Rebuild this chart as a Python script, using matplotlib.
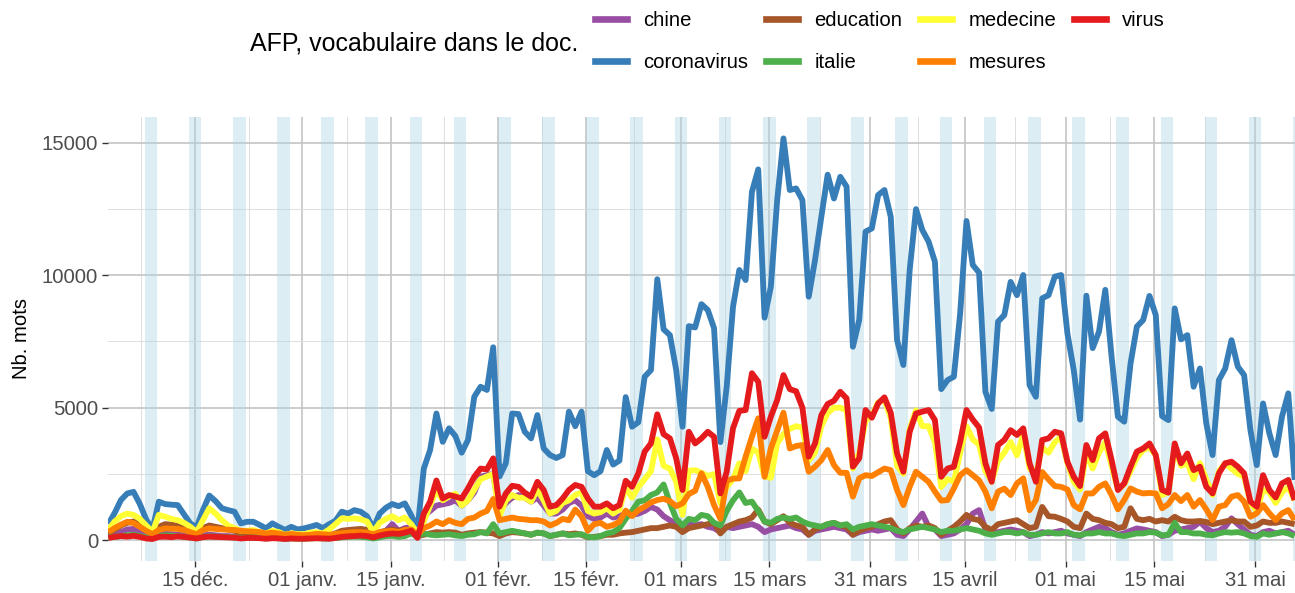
import matplotlib
matplotlib.use("Agg")
import matplotlib.pyplot as plt
from matplotlib.lines import Line2D
import pandas as pd

plt.rcParams["font.family"] = ["Liberation Sans", "DejaVu Sans"]

# Daily word counts in AFP dispatches, one value per day from 1 Dec 2019
chine = [
    150, 200, 300, 400, 420, 300, 200, 100, 200, 250,
    220, 200, 180, 150, 100, 180, 200, 180, 150, 150,
    120, 100, 120, 120, 100, 80, 100, 90, 70, 90,
    80, 80, 90, 100, 90, 90, 120, 150, 180, 200,
    200, 180, 120, 200, 350, 600, 350, 450, 500, 300,
    900, 1100, 1300, 1350, 1400, 1500, 1300, 1500, 1800, 2400,
    2450, 2500, 1100, 1400, 1600, 1700, 1600, 1450, 1600, 1300,
    1000, 1000, 1150, 1400, 1500, 1300, 900, 800, 850, 1000,
    850, 900, 1000, 950, 1000, 1100, 1250, 1150, 900, 750,
    600, 450, 600, 550, 600, 500, 450, 300, 500, 450,
    500, 550, 600, 500, 300, 400, 450, 500, 550, 450,
    400, 200, 350, 400, 450, 500, 450, 400, 200, 300,
    350, 400, 350, 400, 450, 200, 150, 400, 700, 1000,
    500, 400, 150, 200, 250, 400, 600, 1000, 1130, 400,
    250, 300, 350, 400, 350, 300, 150, 200, 300, 250,
    300, 350, 250, 200, 150, 300, 400, 500, 450, 300,
    200, 250, 350, 440, 400, 350, 300, 150, 200, 350,
    400, 450, 500, 690, 450, 300, 350, 500, 820, 600,
    400, 200, 150, 300, 350, 250, 300, 350, 200,
]
coronavirus = [
    600, 1020, 1510, 1760, 1820, 1360, 780, 400, 1450, 1360,
    1335, 1320, 970, 630, 480, 1130, 1680, 1470, 1200, 1130,
    1070, 630, 690, 690, 570, 440, 630, 500, 380, 500,
    400, 440, 500, 570, 450, 600, 730, 1070, 1000, 1130,
    1070, 900, 440, 1000, 1220, 1360, 1280, 1385, 940, 400,
    2700, 3400, 4780, 3710, 4220, 3930, 3300, 3780, 5410, 5790,
    5670, 7280, 2400, 2900, 4780, 4760, 4090, 3840, 4720, 3460,
    3210, 3100, 3210, 4850, 4300, 4850, 2600, 2450, 2600, 3400,
    2850, 3000, 5400, 4280, 4450, 6170, 6420, 9850, 7960, 7740,
    6420, 4280, 8080, 8030, 8910, 8690, 8000, 3700, 5800, 8810,
    10200, 9820, 13150, 14000, 8400, 9570, 12840, 15170, 13220, 13280,
    12840, 9190, 10580, 12210, 13800, 12900, 13720, 13350, 7300, 8310,
    11650, 11770, 13030, 13220, 12210, 7550, 6610, 10200, 12500, 11710,
    11270, 10510, 5700, 6040, 6170, 8560, 12050, 10390, 10100, 5600,
    4950, 8250, 8500, 9750, 9250, 10010, 5850, 5410, 9130, 9250,
    9950, 10010, 7800, 6420, 4550, 9230, 7250, 7870, 9450, 6920,
    4660, 4470, 6670, 8060, 8310, 9220, 8500, 4680, 4530, 8750,
    7580, 7740, 5790, 6480, 4410, 3210, 6040, 6480, 7550, 6550,
    6230, 4150, 2830, 5160, 4030, 3210, 4660, 5540, 2270,
]
education = [
    250, 400, 550, 650, 700, 550, 400, 200, 500, 600,
    580, 550, 480, 350, 220, 450, 550, 500, 450, 400,
    350, 250, 280, 250, 200, 150, 200, 180, 120, 150,
    130, 120, 150, 180, 150, 150, 250, 350, 380, 400,
    420, 380, 200, 300, 350, 400, 350, 400, 350, 150,
    200, 250, 300, 280, 300, 280, 200, 250, 280, 300,
    280, 250, 150, 250, 300, 280, 250, 200, 280, 250,
    150, 200, 250, 220, 250, 200, 100, 120, 150, 200,
    200, 250, 280, 300, 350, 400, 450, 450, 500, 550,
    500, 300, 450, 500, 550, 600, 650, 250, 500, 600,
    700, 750, 850, 1150, 700, 600, 750, 900, 650, 550,
    500, 200, 400, 500, 600, 650, 550, 500, 200, 350,
    450, 500, 600, 700, 750, 400, 250, 450, 550, 500,
    550, 450, 200, 350, 500, 700, 950, 800, 750, 500,
    380, 600, 650, 700, 750, 600, 450, 500, 1250, 900,
    880, 800, 700, 500, 450, 1000, 800, 750, 650, 600,
    450, 500, 1200, 800, 750, 800, 700, 750, 700, 880,
    750, 700, 700, 720, 680, 600, 650, 700, 750, 700,
    700, 500, 550, 700, 650, 650, 700, 650, 600,
]
italie = [
    100, 120, 150, 180, 200, 150, 100, 60, 150, 180,
    160, 150, 120, 100, 60, 120, 140, 130, 120, 110,
    100, 80, 90, 90, 80, 60, 80, 70, 50, 60,
    50, 50, 60, 70, 60, 60, 80, 100, 120, 130,
    120, 100, 60, 100, 150, 160, 120, 150, 250, 150,
    250, 200, 180, 200, 220, 180, 150, 200, 220, 300,
    250, 600, 250, 300, 350, 300, 250, 200, 280, 250,
    150, 200, 250, 180, 200, 220, 120, 100, 150, 250,
    300, 450, 800, 1100, 1450, 1500, 1700, 1800, 2100, 1400,
    800, 550, 800, 750, 950, 900, 650, 550, 1100, 1500,
    1800, 1400, 1450, 1100, 700, 650, 800, 850, 800, 850,
    700, 600, 550, 500, 600, 650, 550, 600, 400, 500,
    550, 600, 550, 500, 450, 350, 300, 400, 450, 500,
    450, 400, 300, 350, 350, 400, 450, 400, 350, 250,
    200, 250, 300, 300, 250, 300, 200, 200, 250, 300,
    250, 250, 300, 200, 180, 250, 250, 300, 250, 250,
    180, 150, 200, 250, 250, 300, 280, 180, 200, 650,
    300, 300, 250, 250, 200, 180, 250, 300, 280, 300,
    250, 150, 120, 250, 200, 250, 300, 250, 150,
]
medecine = [
    400, 700, 900, 1000, 950, 800, 550, 300, 950, 880,
    800, 750, 650, 500, 300, 750, 1200, 1000, 750, 550,
    450, 350, 350, 380, 300, 250, 350, 300, 200, 250,
    230, 220, 280, 300, 250, 400, 600, 820, 800, 820,
    780, 700, 300, 650, 800, 900, 750, 850, 600, 250,
    700, 1300, 1900, 1500, 1650, 1750, 1300, 1500, 1900, 2300,
    2400, 2500, 900, 1500, 1700, 1600, 1600, 1450, 1900, 1500,
    1000, 1100, 1400, 1500, 1700, 1800, 1100, 1000, 1050, 1200,
    1000, 1150, 2000, 1600, 2000, 2300, 2600, 3800, 2800, 2700,
    2200, 950, 2620, 2640, 2540, 2420, 2490, 1390, 2000, 2300,
    2900, 2600, 3450, 3300, 2400, 2350, 3650, 4000, 4200, 4300,
    4250, 3000, 3300, 4300, 4800, 5000, 5000, 4900, 2700, 3300,
    4500, 4700, 5200, 5300, 4600, 2800, 2500, 4200, 4900, 4300,
    4300, 3700, 2000, 2300, 2200, 3300, 4300, 3800, 3600, 2600,
    2200, 3000, 3300, 3700, 3200, 4000, 2700, 2500, 3500, 3300,
    3700, 3900, 2900, 2200, 1900, 3300, 2700, 3300, 3700, 2800,
    1900, 2100, 2600, 3100, 3400, 3500, 3200, 1700, 1800, 3500,
    2800, 2900, 2300, 2900, 2300, 1700, 2600, 2900, 2700, 2500,
    2400, 1400, 1100, 1900, 1800, 1400, 1800, 2000, 1500,
]
mesures = [
    300, 450, 580, 690, 640, 500, 350, 220, 380, 440,
    430, 420, 380, 300, 220, 380, 440, 420, 400, 390,
    380, 350, 330, 320, 300, 250, 280, 250, 200, 230,
    200, 180, 200, 230, 220, 200, 230, 260, 280, 300,
    300, 280, 220, 300, 330, 350, 300, 380, 400, 200,
    450, 550, 700, 600, 750, 650, 600, 800, 850, 1000,
    1100, 1550, 750, 800, 850, 800, 780, 750, 750, 700,
    550, 650, 800, 750, 1150, 900, 350, 600, 650, 500,
    565, 690, 1110, 905, 1130, 1260, 1420, 1510, 1560, 1470,
    1280, 1385, 1740, 1860, 2520, 2010, 1320, 800, 2240, 2320,
    2330, 3150, 3900, 4600, 2390, 3460, 4130, 4810, 3460, 3550,
    3590, 2580, 2770, 3020, 3400, 2830, 2540, 2540, 1640, 2330,
    2450, 2420, 2560, 2700, 2640, 1890, 1320, 2010, 2580, 2390,
    2200, 1830, 1490, 1510, 1950, 2450, 2640, 2450, 2250, 1830,
    1200, 1830, 1940, 1700, 2140, 2330, 1130, 1510, 2570, 2290,
    2040, 2010, 1910, 1320, 1160, 1760, 1760, 2010, 2140, 1700,
    1160, 1510, 1950, 1830, 1760, 1780, 1760, 1200, 1360, 1700,
    1470, 1700, 1260, 1510, 1160, 755, 1260, 1320, 1640, 1700,
    1450, 880, 1010, 1320, 1010, 755, 1010, 1130, 755,
]
virus = [
    80, 120, 150, 130, 160, 120, 60, 40, 120, 130,
    110, 140, 120, 90, 60, 110, 130, 120, 110, 100,
    90, 60, 80, 80, 70, 50, 70, 60, 40, 60,
    50, 50, 60, 70, 60, 50, 80, 120, 140, 150,
    170, 150, 100, 170, 220, 250, 230, 280, 350, 80,
    1000, 1450, 2250, 1570, 1700, 1640, 1570, 1950, 2390, 2700,
    2670, 3085, 1260, 1760, 2050, 2010, 1790, 1640, 2200, 1890,
    1260, 1320, 1570, 1890, 2080, 2010, 1570, 1260, 1260, 1385,
    1200, 1320, 2240, 2010, 2520, 3340, 3650, 4750, 4000, 3840,
    3085, 1890, 4090, 3650, 3840, 4090, 3900, 1760, 2580, 4220,
    4880, 4910, 6300, 5980, 3900, 4660, 5290, 6230, 5700, 5620,
    5000, 3150, 3650, 4720, 5140, 5260, 5600, 5350, 2770, 3085,
    4910, 4620, 5160, 5390, 4810, 3270, 2580, 4090, 4780, 4850,
    4910, 4530, 2390, 2700, 2770, 3710, 4910, 4550, 4250, 2900,
    2200, 3590, 3780, 4150, 3970, 4220, 2900, 2200, 3780, 3840,
    4090, 4030, 2960, 2390, 2040, 3590, 3020, 3840, 4030, 3020,
    1890, 2140, 2770, 3340, 3460, 3650, 3210, 1890, 1790, 3650,
    2900, 3270, 2640, 2770, 2010, 1760, 2520, 2900, 2960, 2770,
    2520, 1450, 1260, 2450, 1890, 1610, 2140, 2270, 1510,
]

terms = ["chine", "coronavirus", "education", "italie", "medecine", "mesures", "virus"]
counts = [chine, coronavirus, education, italie, medecine, mesures, virus]
colors = ["#984EA3", "#377EB8", "#A65628", "#4DAF4A", "#FFFF33", "#FF7F00", "#E41A1C"]

tick_dates = ["2019-12-15", "2020-01-01", "2020-01-15", "2020-02-01", "2020-02-15",
              "2020-03-01", "2020-03-15", "2020-03-31", "2020-04-15", "2020-05-01",
              "2020-05-15", "2020-05-31"]
tick_labels = ["15 déc.", "01 janv.", "15 janv.", "01 févr.", "15 févr.", "01 mars",
               "15 mars", "31 mars", "15 avril", "01 mai", "15 mai", "31 mai"]

dates = pd.date_range("2019-12-01 06:00", periods=len(coronavirus), freq="D")
ticks = pd.to_datetime(tick_dates)
# minor gridlines halfway between labelled dates
minor = [ticks[0] - (ticks[1] - ticks[0]) / 2] + [a + (b - a) / 2 for a, b in zip(ticks[:-1], ticks[1:])]
saturdays = pd.date_range("2019-12-07", dates[-1], freq="7D")

W, H = 1295, 593
fig = plt.figure(figsize=(W / 100, H / 100), dpi=100)
ax = fig.add_axes([108.3 / W, 32.3 / H, (1294.6 - 108.3) / W, 444 / H])

# weekends
for sat in saturdays:
    ax.axvspan(sat, sat + pd.Timedelta(days=2), color="#add8e6", alpha=0.42, lw=0, zorder=1)

for term, values, color in zip(terms, counts, colors):
    ax.plot(dates, values, color=color, lw=4.2, solid_joinstyle="round",
            solid_capstyle="butt", zorder=3, label=term)

ax.set_xlim(dates[0], dates[-1])
ax.set_ylim(-780, 15990)
ax.set_xticks(ticks)
ax.set_xticklabels(tick_labels)
ax.set_xticks(minor, minor=True)
ax.set_yticks([0, 5000, 10000, 15000])
ax.set_yticks([2500, 7500, 12500], minor=True)
ax.grid(which="major", color="#c4c4c4", lw=1.2)
ax.grid(which="minor", color="#dedede", lw=0.7)
ax.set_axisbelow(True)
for spine in ax.spines.values():
    spine.set_visible(False)
ax.tick_params(which="major", length=4.3, width=1.0, color="#333333",
               labelsize=14.6, labelcolor="#4d4d4d", pad=3)
ax.tick_params(which="minor", length=0)
ax.set_ylabel("Nb. mots", fontsize=14.6, labelpad=8)

handles = [Line2D([], [], color=c, lw=4.8) for c in colors]
fig.legend(handles, terms, ncol=4, loc="upper left", bbox_to_anchor=(595 / W, 1 - 11 / H),
           frameon=False, fontsize=14.6, handlelength=1.58, handletextpad=0.8,
           columnspacing=0.88, labelspacing=1.15, borderpad=0, borderaxespad=0)
fig.text(578 / W, 1 - 43 / H, "AFP, vocabulaire dans le doc.", ha="right", va="center",
         fontsize=18)

fig.savefig("out.png", dpi=100)
